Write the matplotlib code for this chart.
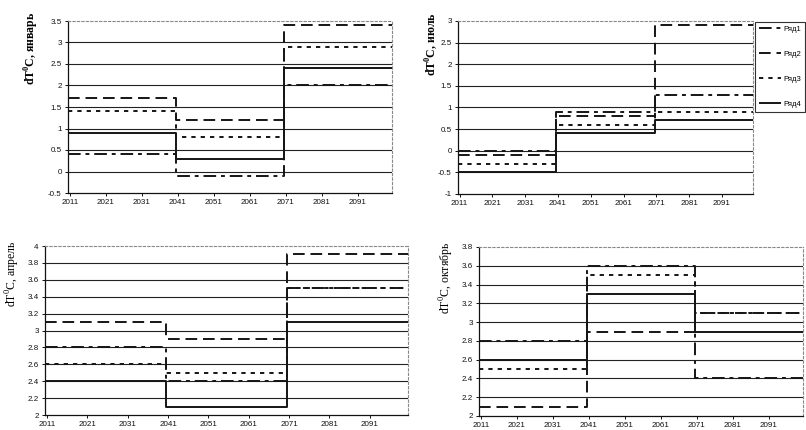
import matplotlib
matplotlib.use("Agg")
import matplotlib.pyplot as plt
import numpy as np

# ---- data ----
periods = [(2011, 2040), (2041, 2070), (2071, 2100)]
series_names = ["Ряд1", "Ряд2", "Ряд3", "Ряд4"]
xtick_years = [2011, 2021, 2031, 2041, 2051, 2061, 2071, 2081, 2091]

jan_r1 = [0.4, -0.1, 2.0]
jan_r2 = [1.7, 1.2, 3.4]
jan_r3 = [1.4, 0.8, 2.9]
jan_r4 = [0.9, 0.3, 2.4]

jul_r1 = [0.0, 0.9, 1.3]
jul_r2 = [-0.1, 0.8, 2.9]
jul_r3 = [-0.3, 0.6, 0.9]
jul_r4 = [-0.5, 0.4, 0.7]

apr_r1 = [2.8, 2.4, 3.5]
apr_r2 = [3.1, 2.9, 3.9]
apr_r3 = [2.6, 2.5, 3.5]
apr_r4 = [2.4, 2.1, 3.1]

oct_r1 = [2.8, 3.6, 2.4]
oct_r2 = [2.1, 2.9, 3.1]
oct_r3 = [2.5, 3.5, 3.1]
oct_r4 = [2.6, 3.3, 2.9]

jan_ylabel = "январь"
jul_ylabel = "июль"
apr_ylabel = "апрель"
oct_ylabel = "октябрь"

# ---- styles ----
W, H = 806, 430
fig = plt.figure(figsize=(W / 100, H / 100), dpi=100)
plt.rcParams['font.family'] = ['Liberation Sans', 'DejaVu Sans']

dash_styles = [(0, (6.5, 2.5, 2.0, 2.5)), (0, (6, 3)), (0, (2.2, 2.6)), '-']
LW = 1.4
INK = '#151515'


def step_xy(vals):
    xs, ys = [], []
    for (a, b), v in zip(periods, vals):
        xs += [a - 0.5, b + 0.5]
        ys += [v, v]
    return xs, ys


def make_panel(rect_px, series, ylim, ystep, ylab, bold, lab_px):
    l, r, t, b = rect_px
    ax = fig.add_axes([l / W, 1 - b / H, (r - l) / W, (b - t) / H])
    yt = np.round(np.arange(ylim[0], ylim[1] + ystep / 2, ystep), 2)
    for y in yt[1:-1]:
        ax.axhline(y, color='#222222', lw=0.8, zorder=1)
    lines = []
    for vals, ls in zip(series, dash_styles):
        xs, ys = step_xy(vals)
        ln, = ax.plot(xs, ys, color=INK, lw=LW, linestyle=ls, zorder=3,
                      solid_capstyle='butt', dash_capstyle='butt')
        lines.append(ln)
    ax.set_xlim(2010.5, 2100.5)
    ax.set_ylim(*ylim)
    ax.set_yticks(yt)
    ax.set_yticklabels([('%g' % v) for v in yt])
    ax.set_xticks(xtick_years)
    ax.set_xticklabels([str(y) for y in xtick_years])
    ax.tick_params(axis='both', labelsize=5.8, length=2.5, width=0.7,
                   colors='#111111', pad=2)
    for s in ['left', 'bottom']:
        ax.spines[s].set_color('#111111')
        ax.spines[s].set_linewidth(0.9)
    for s in ['top', 'right']:
        ax.spines[s].set_color('#888888')
        ax.spines[s].set_linewidth(0.8)
        ax.spines[s].set_linestyle((0, (2, 2)))
    x, ytop = lab_px
    fig.text(x / W, 1 - ytop / H, r'dT$^{\mathregular{0}}$C, ' + ylab,
             rotation=90, ha='center', va='top',
             family=['Liberation Serif', 'DejaVu Serif'],
             fontsize=8.5, fontweight='bold' if bold else 'normal')
    return ax, lines


ax1, lines = make_panel((68, 392, 21, 193), [jan_r1, jan_r2, jan_r3, jan_r4],
                        (-0.5, 3.5), 0.5, jan_ylabel, True, (32, 12))
ax2, _ = make_panel((458, 753, 21, 194), [jul_r1, jul_r2, jul_r3, jul_r4],
                    (-1, 3), 0.5, jul_ylabel, True, (432, 12))
ax3, _ = make_panel((45, 408, 246, 415), [apr_r1, apr_r2, apr_r3, apr_r4],
                    (2, 4), 0.2, apr_ylabel, False, (13, 240))
ax4, _ = make_panel((479, 803, 247, 416), [oct_r1, oct_r2, oct_r3, oct_r4],
                    (2, 3.8), 0.2, oct_ylabel, False, (447, 242))

leg = fig.legend(lines, series_names, loc='upper left',
                 bbox_to_anchor=(755 / W, 1 - 22 / H), borderaxespad=0,
                 fontsize=5.5, handlelength=2.9, handletextpad=0.3,
                 labelspacing=2.3, borderpad=0.5, fancybox=False,
                 framealpha=1, edgecolor='#333333')
leg.get_frame().set_linewidth(0.8)

fig.savefig('out.png', dpi=100)
